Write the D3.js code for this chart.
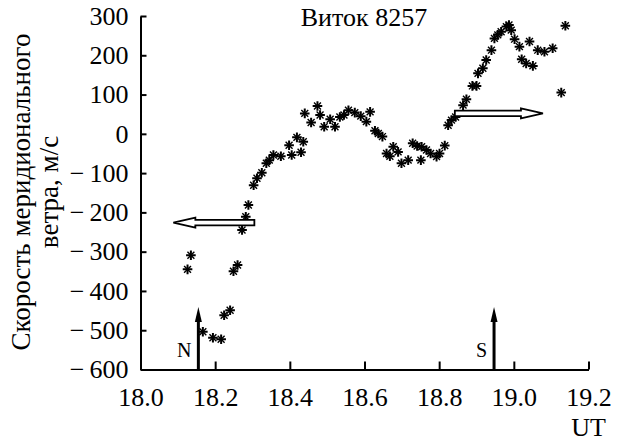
<!DOCTYPE html>
<html>
<head>
<meta charset="utf-8">
<script src="https://cdn.jsdelivr.net/npm/d3@7"></script>
<style>
  body { margin: 0; background: #fff; }
  svg { display: block; }
  text { font-family: "Liberation Serif", "DejaVu Serif", serif; fill: #000; }
</style>
</head>
<body>
<svg id="chart" width="622" height="443"></svg>
<script>
// UT (hours) and meridional wind speed (m/s)
const times = [18.126, 18.135, 18.167, 18.194, 18.216, 18.224, 18.240, 18.249, 18.260,
  18.272, 18.282, 18.289, 18.303, 18.312, 18.325, 18.337, 18.345, 18.356, 18.376,
  18.398, 18.405, 18.419, 18.430, 18.436, 18.440, 18.457, 18.474, 18.481, 18.492,
  18.508, 18.521, 18.534, 18.545, 18.557, 18.574, 18.590, 18.605, 18.615, 18.628,
  18.637, 18.648, 18.659, 18.668, 18.677, 18.690, 18.699, 18.717, 18.729, 18.741,
  18.753, 18.751, 18.766, 18.777, 18.793, 18.801, 18.815, 18.824, 18.833, 18.844,
  18.864, 18.873, 18.889, 18.900, 18.904, 18.917, 18.926, 18.940, 18.948, 18.957,
  18.966, 18.980, 18.987, 18.993, 19.002, 19.015, 19.021, 19.033, 19.042, 19.051,
  19.064, 19.082, 19.104, 19.127, 19.138];
const speeds = [-345, -309, -504, -519, -523, -462, -449, -350, -334,
  -245, -211, -181, -131, -113, -99, -75, -67, -54, -57,
  -29, -54, -9, -47, -20, 52, 29, 71, 48, 18,
  37, 18, 43, 48, 60, 54, 45, 31, 56, 8,
  1, -7, -50, -57, -33, -46, -75, -67, -24, -31,
  -33, -67, -41, -50, -58, -50, -30, 22, 35, 43,
  73, 88, 122, 122, 154, 167, 188, 213, 243, 252,
  260, 273, 277, 264, 241, 222, 190, 179, 235, 173,
  213, 209, 218, 105, 275];

const xTicks = [18.0, 18.2, 18.4, 18.6, 18.8, 19.0, 19.2];
const yTicks = [300, 200, 100, 0, -100, -200, -300, -400, -500, -600];

// N / S markers (UT) and the hollow direction arrows
const poleMarks = [{ t: 18.155, label: "N" }, { t: 18.947, label: "S" }];
const poleTop = -441;
const hollowArrows = [
  { from: 18.305, to: 18.088, v: -226 },
  { from: 18.842, to: 19.078, v: 52 }
];

const title = "Виток 8257";
const yLabel = ["Скорость меридионального", "ветра, м/с"];
const xLabel = "UT";

const serif = '"Liberation Serif", "DejaVu Serif", serif';
const svg = d3.select("#chart");

const x = d3.scaleLinear().domain([18.0, 19.2]).range([140.5, 588.5]);
const y = d3.scaleLinear().domain([-600, 300]).range([369.5, 16]);

// long minus with a small gap, as in the original figure
const fmtY = d => d < 0 ? "\u2212\u2009" + Math.abs(d) : String(d);

const gy = svg.append("g")
  .attr("transform", `translate(${x(18.0)},0)`)
  .call(d3.axisLeft(y).tickValues(yTicks).tickSize(-6).tickSizeOuter(0).tickPadding(12).tickFormat(fmtY));

const gx = svg.append("g")
  .attr("transform", `translate(0,${y(-600)})`)
  .call(d3.axisBottom(x).tickValues(xTicks).tickSize(-8).tickSizeOuter(0).tickPadding(18).tickFormat(d3.format(".1f")));

[gx, gy].forEach(g => {
  g.attr("font-family", null).attr("font-size", null);
  g.selectAll("path.domain").attr("stroke", "#000").attr("stroke-width", 2);
  g.selectAll(".tick line").attr("stroke", "#000").attr("stroke-width", 2);
  g.selectAll(".tick text")
    .style("font-family", serif)
    .style("font-size", "26px")
    .attr("fill", "#000");
});

// title
svg.append("text")
  .attr("x", 364).attr("y", 26)
  .attr("text-anchor", "middle")
  .style("font-size", "26px")
  .text(title);

// axis labels
svg.append("text")
  .attr("x", 606).attr("y", 436)
  .attr("text-anchor", "end")
  .style("font-size", "26px")
  .text(xLabel);

yLabel.forEach((s, i) => {
  svg.append("text")
    .attr("transform", `translate(${30 + i * 28},192) rotate(-90)`)
    .attr("text-anchor", "middle")
    .style("font-size", "27px")
    .text(s);
});

// asterisk markers
const r = 4.8, d = r * 0.72;
const pts = svg.append("g");
times.forEach((t, i) => {
  const g = pts.append("g").attr("transform", `translate(${x(t)},${y(speeds[i])})`);
  g.append("path")
    .attr("d", `M${-r},0H${r}M0,${-r}V${r}`)
    .attr("stroke", "#000").attr("stroke-width", 2);
  g.append("path")
    .attr("d", `M${-d},${-d}L${d},${d}M${-d},${d}L${d},${-d}`)
    .attr("stroke", "#000").attr("stroke-width", 1.4);
});

// N / S arrows
poleMarks.forEach(m => {
  const px = x(m.t), top = y(poleTop);
  svg.append("line")
    .attr("x1", px).attr("x2", px)
    .attr("y1", y(-600)).attr("y2", top + 12)
    .attr("stroke", "#000").attr("stroke-width", 3);
  svg.append("path")
    .attr("d", `M${px},${top}L${px - 3.5},${top + 15}L${px + 3.5},${top + 15}Z`)
    .attr("fill", "#000");
  svg.append("text")
    .attr("x", px - 7).attr("y", 357)
    .attr("text-anchor", "end")
    .style("font-size", "20px")
    .text(m.label);
});

// hollow arrows
hollowArrows.forEach(a => {
  const x0 = x(a.from), x1 = x(a.to), cy = y(a.v);
  const dir = Math.sign(x1 - x0);
  const hb = x1 - dir * 22;
  const sh = 2.8, hh = 5;
  svg.append("path")
    .attr("d", `M${x0},${cy - sh}L${hb},${cy - sh}L${hb},${cy - hh}L${x1},${cy}L${hb},${cy + hh}L${hb},${cy + sh}L${x0},${cy + sh}Z`)
    .attr("fill", "#fff")
    .attr("stroke", "#000")
    .attr("stroke-width", 1.8)
    .attr("stroke-linejoin", "miter");
});
</script>
</body>
</html>
